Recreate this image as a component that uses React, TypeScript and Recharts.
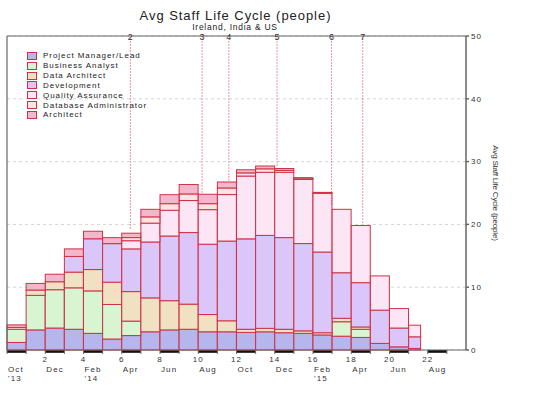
import React from 'react';
import {
  ComposedChart, Bar, XAxis, YAxis, CartesianGrid, ReferenceLine, ReferenceArea, Legend,
} from 'recharts';

// months since Oct '13, one bar per month
const months = [0, 1, 2, 3, 4, 5, 6, 7, 8, 9, 10, 11, 12, 13, 14, 15, 16, 17, 18, 19, 20, 21];
// last month is only partly covered
const monthCover = [1, 1, 1, 1, 1, 1, 1, 1, 1, 1, 1, 1, 1, 1, 1, 1, 1, 1, 1, 1, 1, 0.63];

const pmLead = [1.2, 3.2, 3.5, 3.3, 2.65, 1.75, 2.3, 2.9, 3.2, 3.3, 2.9, 2.9, 2.8, 2.9, 2.75, 2.65, 2.4, 2.2, 2.0, 1.05, 0.5, 0.25];
const businessAnalyst = [2.1, 5.5, 6.1, 6.6, 6.76, 5.5, 2.3, 0, 0, 0, 0, 0, 0, 0, 0, 0, 0, 2.3, 1.3, 0, 0, 0];
const dataArchitect = [0, 0.85, 1.27, 2.5, 3.4, 3.55, 4.7, 5.4, 4.65, 4.0, 2.75, 1.75, 0.5, 0.55, 0.55, 0.4, 0.35, 0.55, 0.37, 0, 0, 0];
const development = [0, 0, 0, 2.5, 4.9, 6.14, 6.8, 8.9, 10.3, 11.4, 11.2, 12.7, 14.4, 14.8, 14.6, 13.9, 12.85, 7.25, 7.05, 5.3, 3.0, 1.85];
const qualityAssurance = [0, 0, 0, 0, 0, 0, 1.3, 3.0, 4.1, 5.1, 5.5, 7.4, 10.0, 10.05, 10.4, 10.2, 9.35, 10.1, 9.1, 5.45, 3.1, 1.85];
const dbAdmin = [0.3, 0, 0, 0, 0, 0, 0.5, 1.0, 1.05, 1.05, 0.95, 1.05, 0.5, 0.55, 0.3, 0.1, 0, 0, 0, 0, 0, 0];
const architect = [0.4, 1.05, 1.2, 1.2, 1.2, 0.95, 0.7, 1.2, 1.43, 1.5, 1.5, 0.95, 0.5, 0.45, 0.3, 0.2, 0.15, 0, 0, 0, 0, 0];

const SERIES = [
  { key: 'pm', name: 'Project Manager/Lead', color: '#b6b6ec', values: pmLead },
  { key: 'ba', name: 'Business Analyst', color: '#d6f5d0', values: businessAnalyst },
  { key: 'da', name: 'Data Architect', color: '#f1e1c3', values: dataArchitect },
  { key: 'dev', name: 'Development', color: '#dac6f8', values: development },
  { key: 'qa', name: 'Quality Assurance', color: '#fce5f5', values: qualityAssurance },
  { key: 'dba', name: 'Database Administrator', color: '#fde3e3', values: dbAdmin },
  { key: 'arch', name: 'Architect', color: '#f3b7cd', values: architect },
];

// milestone markers
const milestoneLabels = ['2', '3', '4', '5', '6', '7'];
const milestoneAt = [6.45, 10.2, 11.6, 14.12, 16.97, 18.6];
const milestoneReach = [19.3, 25.0, 27.0, 29.2, 22.85, 20.2];

// axis
const monthTicks = [0, 1, 2, 3, 4, 5, 6, 7, 8, 9, 10, 11, 12, 13, 14, 15, 16, 17, 18, 19, 20, 21, 22, 23];
const labelTicks = [0, 2, 4, 6, 8, 10, 12, 14, 16, 18, 20, 22];
const tickNums = ['', '2', '4', '6', '8', '10', '12', '14', '16', '18', '20', '22'];
const tickMonths = ['Oct', 'Dec', 'Feb', 'Apr', 'Jun', 'Aug', 'Oct', 'Dec', 'Feb', 'Apr', 'Jun', 'Aug'];
const tickYears = ["'13", '', "'14", '', '', '', '', '', "'15", '', '', ''];
const stripeStarts = [0, 2, 4, 6, 8, 10, 12, 14, 16, 18, 20, 22];
const yTicks = [0, 10, 20, 30, 40, 50];

const data = months.map((m, i) => {
  const row: any = { pos: m + 0.5, cover: monthCover[i] };
  SERIES.forEach((s) => { row[s.key] = s.values[i]; });
  return row;
});

const EDGE = '#cc3346';
const FONT = "'Liberation Sans', Arial, sans-serif";
const AXIS = '#666';

const Segment = (props: any) => {
  const { x, y, width, height, fill, payload } = props;
  if (!height || height <= 0.01) return null;
  const w = width * (payload?.cover ?? 1);
  return <rect x={x} y={y} width={w} height={height} fill={fill} stroke={EDGE} strokeWidth={1} />;
};

const MonthTick = ({ x, y, payload }: any) => {
  const i = labelTicks.indexOf(payload.value);
  if (i < 0) return null;
  const st = { fontSize: 8, fill: '#333', fontFamily: FONT, letterSpacing: 1.1 };
  return (
    <g>
      <text x={x} y={y + 8} textAnchor="middle" style={st}>{tickNums[i]}</text>
      <text x={x + 1} y={y + 17.7} textAnchor="start" style={st}>{tickMonths[i]}</text>
      {tickYears[i] && <text x={x + 1} y={y + 27} textAnchor="start" style={st}>{tickYears[i]}</text>}
    </g>
  );
};

const renderLegend = () => (
  <div style={{ fontFamily: FONT, fontSize: 8, letterSpacing: 0.95, color: '#222' }}>
    {SERIES.map((s) => (
      <div key={s.key} style={{ height: 9.83, display: 'flex', alignItems: 'center', whiteSpace: 'nowrap' }}>
        <span style={{ display: 'inline-block', width: 8, height: 6, background: s.color, border: `1px solid ${EDGE}`, marginRight: 6 }} />
        <span>{s.name}</span>
      </div>
    ))}
  </div>
);

const SideLabel = ({ viewBox }: any) => {
  const cx = viewBox.x + 29;
  const cy = viewBox.y + viewBox.height / 2;
  return (
    <text x={cx} y={cy} transform={`rotate(90 ${cx} ${cy})`} textAnchor="middle" dominantBaseline="middle"
      style={{ fontSize: 8, fill: '#333', fontFamily: "'Liberation Sans Narrow', 'Liberation Sans', Arial", letterSpacing: -0.2 }}>
      Avg Staff Life Cycle (people)
    </text>
  );
};

export default function App() {
  return (
    <div style={{ position: 'absolute', left: 0, top: 0, width: 551, height: 398, background: '#fff' }}>
      <ComposedChart width={551} height={398} data={data} margin={{ top: 36, right: 55, bottom: 8, left: 7 }} barCategoryGap={0}>
        <CartesianGrid vertical={false} strokeDasharray="3 3" stroke="#d4d4d4" />
        <XAxis
          type="number"
          dataKey="pos"
          domain={[0, 24]}
          ticks={monthTicks}
          interval={0}
          tickSize={4}
          tickMargin={0}
          height={40}
          stroke={AXIS}
          tick={<MonthTick />}
        />
        <YAxis
          orientation="right"
          domain={[0, 50]}
          ticks={yTicks}
          width={30}
          tickSize={3}
          tickMargin={2}
          stroke={AXIS}
          strokeWidth={1.5}
          tick={{ fontSize: 8, fill: '#333', fontFamily: FONT, letterSpacing: 1 }}
          label={<SideLabel />}
        />
        <ReferenceLine y={50} stroke={AXIS} strokeWidth={1.2} />
        <ReferenceLine x={0} stroke={AXIS} strokeWidth={1.2} />
        {SERIES.map((s) => (
          <Bar key={s.key} dataKey={s.key} name={s.name} stackId="staff" fill={s.color}
            shape={<Segment />} isAnimationActive={false} />
        ))}
        {milestoneAt.map((m, i) => (
          <ReferenceLine
            key={milestoneLabels[i]}
            segment={[{ x: m, y: 49.6 }, { x: m, y: milestoneReach[i] }]}
            stroke={EDGE}
            strokeWidth={1}
            strokeDasharray="1 2"
            label={{ value: milestoneLabels[i], position: 'top', offset: -1, fontSize: 9, fill: '#333', fontFamily: FONT }}
          />
        ))}
        {stripeStarts.map((s) => (
          <ReferenceArea key={s} x1={s} x2={s + 1} y1={0} y2={-0.45} fill="#111" fillOpacity={1} stroke="none" ifOverflow="visible" />
        ))}
        <Legend layout="vertical" align="center" verticalAlign="middle" content={renderLegend}
          wrapperStyle={{ position: 'absolute', left: 27, top: 51, width: 'auto' }} />
      </ComposedChart>
      <svg width={551} height={40} style={{ position: 'absolute', left: 0, top: 0, pointerEvents: 'none' }}>
        <text x={235.5} y={19.5} textAnchor="middle" style={{ fontSize: 13, fill: '#222', fontFamily: FONT, letterSpacing: 0.95 }}>
          Avg Staff Life Cycle (people)
        </text>
        <text x={235} y={29.5} textAnchor="middle" style={{ fontSize: 8.5, fill: '#222', fontFamily: FONT, letterSpacing: 0.75 }}>
          Ireland, India &amp; US
        </text>
      </svg>
    </div>
  );
}
